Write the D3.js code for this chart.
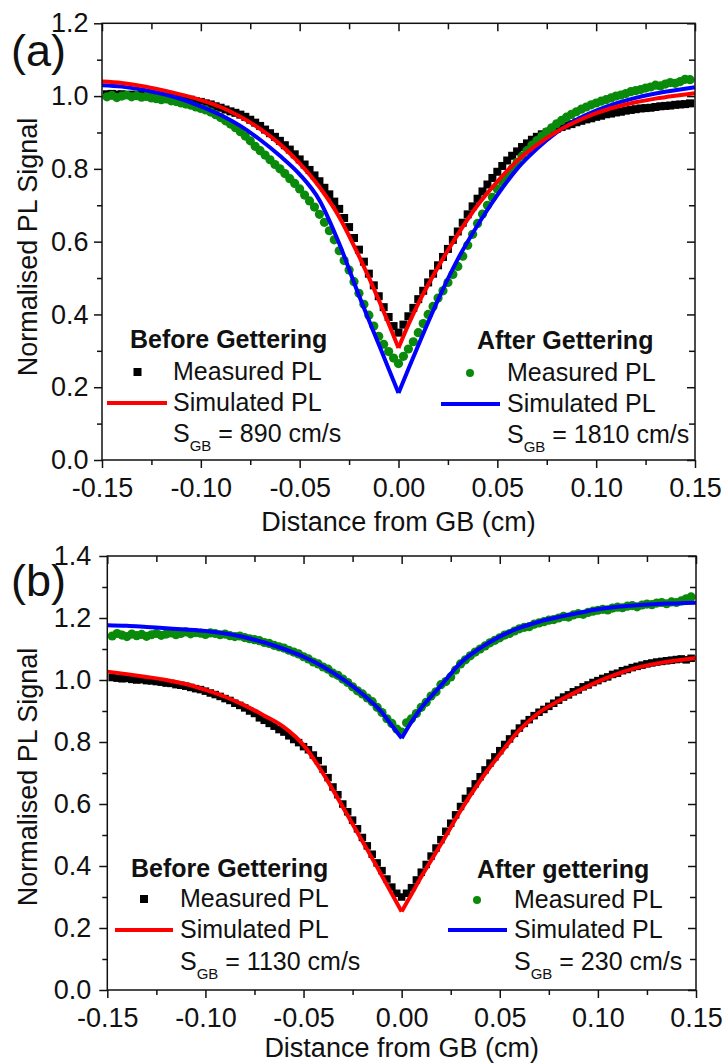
<!DOCTYPE html>
<html>
<head>
<meta charset="utf-8">
<script src="https://cdn.jsdelivr.net/npm/d3@7"></script>
<style>
  body { margin: 0; background: #fff; }
  svg text { font-family: "Liberation Sans", Arial, sans-serif; fill: #111; }
</style>
</head>
<body>
<svg id="chart" width="724" height="1064"></svg>
<script>
// measured PL profiles share one x grid (cm), one point every 0.0025 cm
const measX = d3.range(119).map(i => +((i - 59) * 0.0025).toFixed(4));

// simulated profiles
const simX = [-0.15, -0.14, -0.13, -0.12, -0.11, -0.10, -0.09, -0.08, -0.07, -0.06, -0.05,
  -0.04, -0.03, -0.02, -0.01, -0.005, 0, 0.005, 0.01, 0.02, 0.03, 0.04, 0.05,
  0.06, 0.07, 0.08, 0.09, 0.10, 0.11, 0.12, 0.13, 0.14, 0.15];

// panel (a)
const aBeforeMeas = [
  1.005, 1.006, 1.004, 1.005, 1.003, 1.004, 1.002, 1.003, 1.001, 1.000,
  0.999, 1.000, 0.997, 0.996, 0.994, 0.995, 0.991, 0.990, 0.986, 0.984,
  0.980, 0.977, 0.972, 0.968, 0.963, 0.958, 0.954, 0.949, 0.943, 0.935,
  0.927, 0.918, 0.908, 0.898, 0.888, 0.877, 0.865, 0.853, 0.840, 0.826,
  0.812, 0.797, 0.782, 0.766, 0.748, 0.730, 0.710, 0.690, 0.665, 0.640,
  0.610, 0.578, 0.545, 0.512, 0.480, 0.450, 0.420, 0.393, 0.368,
  0.350,
  0.372, 0.395, 0.418, 0.442, 0.465, 0.488, 0.512, 0.535, 0.558, 0.580,
  0.605, 0.628, 0.652, 0.675, 0.697, 0.718, 0.738, 0.757, 0.775, 0.792,
  0.808, 0.823, 0.836, 0.848, 0.860, 0.870, 0.880, 0.888, 0.895, 0.900,
  0.905, 0.910, 0.915, 0.919, 0.923, 0.928, 0.932, 0.936, 0.939, 0.943,
  0.946, 0.950, 0.952, 0.955, 0.957, 0.960, 0.962, 0.964, 0.966, 0.967,
  0.968, 0.970, 0.972, 0.973, 0.974, 0.976, 0.977, 0.978, 0.980];
const aAfterMeas = [
  0.998, 1.002, 0.996, 1.000, 1.003, 0.998, 1.001, 0.997, 0.999, 0.995,
  0.993, 0.990, 0.992, 0.987, 0.985, 0.981, 0.978, 0.975, 0.970, 0.966,
  0.962, 0.956, 0.949, 0.941, 0.932, 0.923, 0.913, 0.902, 0.890, 0.877,
  0.862, 0.850, 0.838, 0.825, 0.812, 0.800, 0.787, 0.773, 0.760, 0.745,
  0.728, 0.712, 0.695, 0.675, 0.653, 0.630, 0.605, 0.575, 0.548, 0.522,
  0.490, 0.458, 0.428, 0.398, 0.368, 0.340, 0.318, 0.298, 0.280,
  0.265,
  0.285, 0.305, 0.325, 0.350, 0.375, 0.400, 0.422, 0.445, 0.465, 0.488,
  0.510, 0.532, 0.560, 0.590, 0.620, 0.650, 0.676, 0.700, 0.722, 0.745,
  0.765, 0.783, 0.800, 0.818, 0.835, 0.850, 0.865, 0.878, 0.890, 0.902,
  0.913, 0.924, 0.933, 0.942, 0.950, 0.957, 0.964, 0.970, 0.976, 0.981,
  0.986, 0.990, 0.995, 1.000, 1.003, 1.007, 1.012, 1.015, 1.018, 1.022,
  1.025, 1.030, 1.028, 1.033, 1.037, 1.035, 1.040, 1.046, 1.045];
const aBeforeSim = [1.040, 1.036, 1.028, 1.017, 1.004, 0.989, 0.970, 0.943, 0.910, 0.868, 0.815,
  0.750, 0.668, 0.560, 0.440, 0.375, 0.308, 0.372, 0.430, 0.530, 0.620, 0.700, 0.765,
  0.822, 0.866, 0.902, 0.930, 0.953, 0.970, 0.983, 0.993, 1.001, 1.008];
const aAfterSim = [1.030, 1.026, 1.018, 1.007, 0.992, 0.972, 0.948, 0.918, 0.880, 0.836, 0.785,
  0.714, 0.595, 0.452, 0.318, 0.251, 0.184, 0.250, 0.315, 0.440, 0.552, 0.645, 0.728,
  0.800, 0.855, 0.900, 0.935, 0.960, 0.980, 0.995, 1.007, 1.016, 1.024];

// panel (b)
const bBeforeMeas = [
  1.008, 1.006, 1.004, 1.005, 1.002, 1.000, 1.001, 0.998, 0.997, 0.995,
  0.993, 0.990, 0.989, 0.985, 0.983, 0.980, 0.976, 0.972, 0.969, 0.964,
  0.958, 0.953, 0.947, 0.940, 0.934, 0.925, 0.918, 0.910, 0.900, 0.892,
  0.878, 0.870, 0.860, 0.851, 0.840, 0.832, 0.820, 0.808, 0.798, 0.785,
  0.775, 0.758, 0.740, 0.712, 0.685, 0.655, 0.630, 0.600, 0.575, 0.548,
  0.520, 0.492, 0.465, 0.438, 0.410, 0.385, 0.358, 0.332, 0.312,
  0.300,
  0.312, 0.330, 0.355, 0.380, 0.405, 0.432, 0.458, 0.485, 0.512, 0.538,
  0.565, 0.592, 0.618, 0.642, 0.665, 0.688, 0.710, 0.732, 0.752, 0.772,
  0.792, 0.810, 0.828, 0.845, 0.860, 0.872, 0.885, 0.896, 0.905, 0.915,
  0.925, 0.935, 0.945, 0.952, 0.962, 0.968, 0.978, 0.984, 0.992, 0.998,
  1.005, 1.010, 1.018, 1.022, 1.030, 1.034, 1.040, 1.044, 1.048, 1.052,
  1.055, 1.058, 1.060, 1.062, 1.064, 1.066, 1.068, 1.065, 1.070];
const bAfterMeas = [
  1.142, 1.150, 1.145, 1.140, 1.148, 1.143, 1.147, 1.141, 1.146, 1.150,
  1.144, 1.148, 1.152, 1.146, 1.150, 1.155, 1.149, 1.153, 1.151, 1.147,
  1.152, 1.150, 1.146, 1.148, 1.143, 1.140, 1.142, 1.137, 1.133, 1.130,
  1.127, 1.121, 1.118, 1.112, 1.107, 1.103, 1.096, 1.090, 1.084, 1.075,
  1.068, 1.058, 1.052, 1.042, 1.035, 1.022, 1.015, 1.003, 0.992, 0.978,
  0.965, 0.955, 0.942, 0.930, 0.912, 0.895, 0.875, 0.860, 0.842,
  0.832,
  0.862, 0.875, 0.892, 0.912, 0.928, 0.948, 0.962, 0.985, 0.995, 1.010,
  1.032, 1.052, 1.065, 1.078, 1.090, 1.100, 1.110, 1.120, 1.128, 1.136,
  1.145, 1.150, 1.158, 1.165, 1.170, 1.172, 1.180, 1.184, 1.188, 1.193,
  1.195, 1.200, 1.205, 1.203, 1.210, 1.214, 1.212, 1.218, 1.222, 1.225,
  1.228, 1.226, 1.232, 1.235, 1.233, 1.238, 1.240, 1.236, 1.242, 1.245,
  1.243, 1.248, 1.250, 1.246, 1.252, 1.250, 1.255, 1.262, 1.268];
const bBeforeSim = [1.027, 1.019, 1.010, 1.000, 0.987, 0.968, 0.946, 0.918, 0.885, 0.848, 0.790,
  0.698, 0.590, 0.480, 0.368, 0.310, 0.253, 0.309, 0.365, 0.470, 0.578, 0.675, 0.760,
  0.838, 0.895, 0.932, 0.965, 0.995, 1.020, 1.040, 1.053, 1.063, 1.071];
const bAfterSim = [1.177, 1.175, 1.171, 1.167, 1.163, 1.158, 1.150, 1.138, 1.121, 1.100, 1.075,
  1.043, 1.003, 0.955, 0.895, 0.853, 0.812, 0.865, 0.910, 0.982, 1.055, 1.103, 1.140,
  1.168, 1.188, 1.203, 1.216, 1.228, 1.236, 1.241, 1.245, 1.247, 1.249];

// ticks
const xMajor = [-0.15, -0.10, -0.05, 0, 0.05, 0.10, 0.15];
const xMinor = [-0.125, -0.075, -0.025, 0.025, 0.075, 0.125];
const aYMajor = [0, 0.2, 0.4, 0.6, 0.8, 1.0, 1.2];
const aYMinor = [0.1, 0.3, 0.5, 0.7, 0.9, 1.1];
const bYMajor = [0, 0.2, 0.4, 0.6, 0.8, 1.0, 1.2, 1.4];
const bYMinor = [0.1, 0.3, 0.5, 0.7, 0.9, 1.1, 1.3];

const RED = "#ff0000", BLUE = "#0000ff", GREEN = "#0a8a0a", BLACK = "#000";

const svg = d3.select("#chart");

function styleAxis(g, fontSize) {
  g.select(".domain").remove();
  g.attr("font-family", null).attr("font-size", null);
  g.selectAll("line").attr("stroke", "#111").attr("stroke-width", 1.5);
  g.selectAll("text").style("font-size", fontSize + "px").attr("fill", "#111");
}

function drawPanel(p) {
  const g = svg.append("g");
  const x = d3.scaleLinear().domain([-0.15, 0.15]).range([p.left, p.right]);
  const y = d3.scaleLinear().domain([0, p.yMax]).range([p.bottom, p.top]);

  // axes: left/bottom ticks point out, top/right ticks point in
  g.append("g").attr("transform", `translate(0,${p.bottom})`)
    .call(d3.axisBottom(x).tickValues(xMajor).tickSize(8).tickPadding(10)
      .tickFormat(d => d.toFixed(2)))
    .call(a => styleAxis(a, 27));
  g.append("g").attr("transform", `translate(0,${p.bottom})`)
    .call(d3.axisBottom(x).tickValues(xMinor).tickSize(5).tickFormat(""))
    .call(a => styleAxis(a, 27));
  g.append("g").attr("transform", `translate(${p.left},0)`)
    .call(d3.axisLeft(y).tickValues(p.yMajor).tickSize(8).tickPadding(p.yPad)
      .tickFormat(d => d.toFixed(1)))
    .call(a => styleAxis(a, 27));
  g.append("g").attr("transform", `translate(${p.left},0)`)
    .call(d3.axisLeft(y).tickValues(p.yMinor).tickSize(5).tickFormat(""))
    .call(a => styleAxis(a, 27));
  g.append("g").attr("transform", `translate(0,${p.top})`)
    .call(d3.axisTop(x).tickValues(xMajor).tickSize(-8).tickFormat(""))
    .call(a => styleAxis(a, 27));
  g.append("g").attr("transform", `translate(0,${p.top})`)
    .call(d3.axisTop(x).tickValues(xMinor).tickSize(-6).tickFormat(""))
    .call(a => styleAxis(a, 27));
  g.append("g").attr("transform", `translate(${p.right},0)`)
    .call(d3.axisRight(y).tickValues(p.yMajor).tickSize(-8).tickFormat(""))
    .call(a => styleAxis(a, 27));
  g.append("g").attr("transform", `translate(${p.right},0)`)
    .call(d3.axisRight(y).tickValues(p.yMinor).tickSize(-6).tickFormat(""))
    .call(a => styleAxis(a, 27));

  // measured points
  const before = measX.map((d, i) => [d, p.beforeMeas[i]]);
  const after = measX.map((d, i) => [d, p.afterMeas[i]]);
  g.append("g").selectAll("rect").data(before).join("rect")
    .attr("x", d => x(d[0]) - p.sq / 2).attr("y", d => y(d[1]) - p.sq / 2)
    .attr("width", p.sq).attr("height", p.sq).attr("fill", BLACK);
  g.append("g").selectAll("circle").data(after).join("circle")
    .attr("cx", d => x(d[0])).attr("cy", d => y(d[1]))
    .attr("r", 4.6).attr("fill", GREEN);

  // simulated lines, each half drawn on its own so the cusp at 0 stays sharp
  const line = d3.line().x(d => x(d[0])).y(d => y(d[1])).curve(d3.curveMonotoneX);
  [[p.afterSim, BLUE], [p.beforeSim, RED]].forEach(([vals, col]) => {
    const pts = simX.map((d, i) => [d, vals[i]]);
    [pts.filter(d => d[0] <= 0), pts.filter(d => d[0] >= 0)].forEach(half => {
      g.append("path").datum(half).attr("d", line)
        .attr("fill", "none").attr("stroke", col).attr("stroke-width", 4)
        .attr("stroke-linejoin", "round");
    });
  });

  // frame
  g.append("rect").attr("x", p.left).attr("y", p.top)
    .attr("width", p.right - p.left).attr("height", p.bottom - p.top)
    .attr("fill", "none").attr("stroke", "#111").attr("stroke-width", 1.5);

  // axis titles and panel letter
  g.append("text").attr("x", (p.left + p.right) / 2).attr("y", p.xTitleY)
    .attr("text-anchor", "middle").style("font-size", "27px")
    .text("Distance from GB (cm)");
  g.append("text").attr("transform", `translate(37,${p.yTitleY}) rotate(-90)`)
    .attr("text-anchor", "middle").style("font-size", "27px")
    .text("Normalised PL Signal");
  g.append("text").attr("x", 11).attr("y", p.letterY)
    .style("font-size", "45px").text(p.letter);

  // legends
  p.legends.forEach(l => {
    const lg = g.append("g");
    lg.append("text").attr("x", l.titleX).attr("y", l.rows[0])
      .style("font-size", "25px").style("font-weight", "bold").text(l.title);
    if (l.marker === "square") {
      lg.append("rect").attr("x", l.markX - 4).attr("y", l.rows[1] - 12)
        .attr("width", 8).attr("height", 8).attr("fill", BLACK);
    } else {
      lg.append("circle").attr("cx", l.markX).attr("cy", l.rows[1] - 8)
        .attr("r", 4).attr("fill", GREEN);
    }
    lg.append("text").attr("x", l.textX).attr("y", l.rows[1])
      .style("font-size", "25px").text("Measured PL");
    lg.append("line").attr("x1", l.lineX[0]).attr("x2", l.lineX[1])
      .attr("y1", l.rows[2] - 8).attr("y2", l.rows[2] - 8)
      .attr("stroke", l.lineColor).attr("stroke-width", 4);
    lg.append("text").attr("x", l.textX).attr("y", l.rows[2])
      .style("font-size", "25px").text("Simulated PL");
    const s = lg.append("text").attr("x", l.textX).attr("y", l.rows[3])
      .style("font-size", "25px");
    s.append("tspan").text("S");
    s.append("tspan").attr("dy", 9).style("font-size", "15px").text("GB");
    s.append("tspan").attr("dy", -9).text(" = " + l.sgb + " cm/s");
  });
}

drawPanel({
  left: 102, right: 695, top: 23.3, bottom: 460, yMax: 1.2,
  yMajor: aYMajor, yMinor: aYMinor, yPad: 5.5, sq: 8,
  beforeMeas: aBeforeMeas, afterMeas: aAfterMeas,
  beforeSim: aBeforeSim, afterSim: aAfterSim,
  xTitleY: 531, yTitleY: 247, letter: "(a)", letterY: 66,
  legends: [
    { title: "Before Gettering", titleX: 130, rows: [348, 380, 411, 442], marker: "square",
      markX: 137.5, textX: 173, lineX: [107, 167], lineColor: RED, sgb: "890" },
    { title: "After Gettering", titleX: 477, rows: [349, 381, 412, 443], marker: "circle",
      markX: 470, textX: 507, lineX: [441, 500], lineColor: BLUE, sgb: "1810" }
  ]
});

drawPanel({
  left: 107.3, right: 696, top: 556, bottom: 990, yMax: 1.4,
  yMajor: bYMajor, yMinor: bYMinor, yPad: 8, sq: 7.5,
  beforeMeas: bBeforeMeas, afterMeas: bAfterMeas,
  beforeSim: bBeforeSim, afterSim: bAfterSim,
  xTitleY: 1057, yTitleY: 777, letter: "(b)", letterY: 596,
  legends: [
    { title: "Before Gettering", titleX: 131, rows: [877, 907, 938, 970], marker: "square",
      markX: 144, textX: 180, lineX: [115, 173], lineColor: RED, sgb: "1130" },
    { title: "After gettering", titleX: 477, rows: [878, 908, 938, 970], marker: "circle",
      markX: 477, textX: 514, lineX: [448, 507], lineColor: BLUE, sgb: "230" }
  ]
});
</script>
</body>
</html>
